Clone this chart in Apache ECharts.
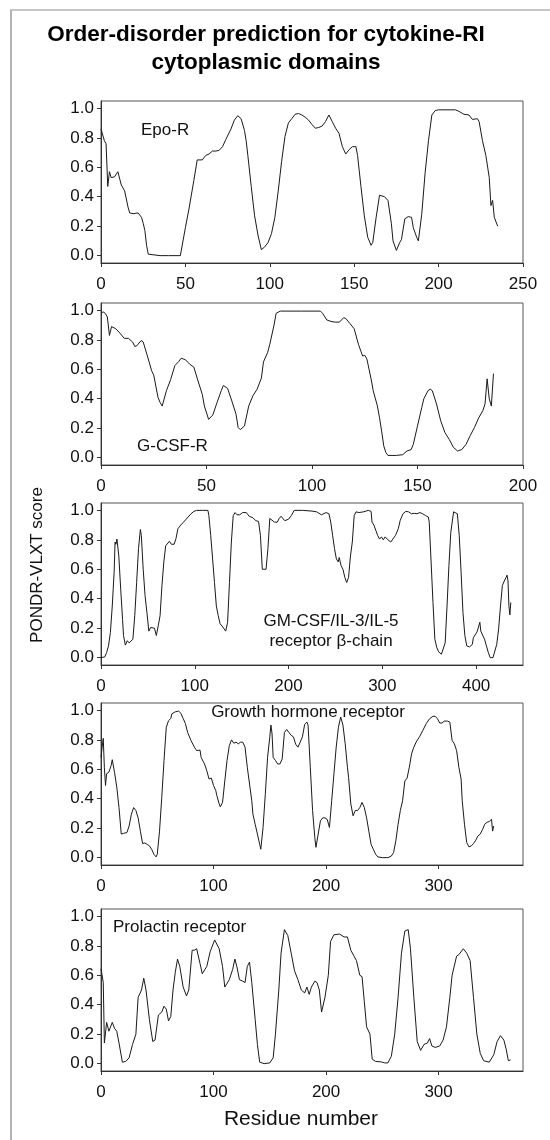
<!DOCTYPE html>
<html>
<head>
<meta charset="utf-8">
<script src="https://cdn.jsdelivr.net/npm/echarts@6/dist/echarts.min.js"></script>
<style>
  html, body { margin: 0; padding: 0; background: #fff; }
  #main { width: 550px; height: 1140px; }
</style>
</head>
<body>
<div id="main"></div>
<script>
// PONDR-VLXT scores, [residue, score]
const epoR = [[0,0.86],[2,0.78],[3,0.76],[4,0.47],[5,0.57],[6,0.53],[8,0.535],[10,0.57],[12,0.48],[14,0.44],[16,0.33],[17,0.29],[19,0.285],[20,0.295],[22,0.29],[24,0.26],[25,0.22],[26,0.17],[27,0.07],[28,0.01],[29,0],[35,0],[40,0],[47,0],[48,0.005],[50,0.19],[52,0.31],[55,0.51],[57,0.65],[58,0.65],[60,0.65],[62,0.68],[64,0.69],[66,0.71],[68,0.71],[70,0.715],[72,0.74],[74,0.79],[77,0.86],[79,0.92],[81,0.95],[83,0.93],[85,0.85],[86,0.78],[87,0.68],[89,0.47],[91,0.27],[93,0.14],[95,0.04],[97,0.06],[99,0.09],[101,0.15],[103,0.26],[105,0.44],[107,0.64],[109,0.81],[111,0.9],[113,0.93],[115,0.96],[117,0.965],[119,0.955],[121,0.94],[123,0.92],[125,0.89],[127,0.865],[129,0.87],[131,0.88],[133,0.91],[135,0.955],[137,0.91],[139,0.865],[141,0.83],[143,0.74],[145,0.69],[147,0.72],[149,0.74],[151,0.74],[152,0.68],[154,0.47],[156,0.27],[158,0.125],[160,0.07],[161,0.09],[163,0.26],[165,0.41],[166,0.41],[168,0.4],[170,0.375],[172,0.22],[173,0.1],[175,0.035],[177,0.09],[178,0.11],[180,0.25],[182,0.265],[184,0.26],[185,0.19],[187,0.125],[188,0.1],[190,0.28],[192,0.56],[194,0.78],[196,0.955],[198,0.985],[200,0.99],[205,0.99],[210,0.99],[212,0.98],[215,0.96],[218,0.955],[220,0.925],[223,0.93],[224,0.91],[226,0.78],[228,0.68],[230,0.53],[231,0.34],[232,0.375],[233,0.26],[235,0.2]];

const gcsfR = [[0,0.98],[1,0.99],[2,0.98],[3,0.955],[4,0.83],[5,0.89],[7,0.875],[9,0.845],[11,0.81],[13,0.81],[15,0.785],[16,0.755],[17,0.76],[19,0.795],[20,0.785],[22,0.69],[24,0.59],[25,0.56],[27,0.41],[28,0.375],[29,0.35],[31,0.455],[33,0.53],[35,0.625],[37,0.655],[38,0.675],[40,0.665],[42,0.635],[44,0.615],[46,0.52],[48,0.43],[49,0.35],[51,0.26],[53,0.29],[55,0.375],[57,0.455],[58,0.49],[60,0.47],[62,0.385],[64,0.295],[65,0.205],[66,0.19],[68,0.215],[70,0.35],[72,0.42],[74,0.465],[76,0.54],[77,0.65],[79,0.715],[80,0.77],[82,0.9],[83,0.98],[85,0.995],[90,0.995],[95,0.995],[100,0.995],[104,0.995],[105,0.98],[107,0.935],[109,0.925],[111,0.92],[113,0.92],[115,0.95],[116,0.945],[118,0.91],[120,0.875],[122,0.77],[124,0.69],[125,0.695],[126,0.67],[128,0.535],[129,0.455],[131,0.35],[132,0.27],[133,0.18],[134,0.08],[135,0.035],[136,0.015],[140,0.015],[143,0.02],[145,0.045],[147,0.055],[148,0.09],[150,0.215],[152,0.34],[153,0.4],[155,0.455],[156,0.465],[157,0.455],[159,0.365],[161,0.25],[163,0.17],[165,0.125],[167,0.07],[169,0.045],[171,0.055],[173,0.09],[175,0.15],[177,0.205],[179,0.27],[181,0.32],[182,0.365],[183,0.535],[184,0.4],[185,0.35],[186,0.57]];

const gmcsfBeta = [[0,0],[4,0.005],[6,0.035],[8,0.08],[10,0.17],[12,0.35],[14,0.58],[15,0.785],[16,0.77],[17,0.805],[19,0.69],[21,0.465],[23,0.26],[24,0.15],[26,0.085],[28,0.115],[30,0.1],[32,0.09],[34,0.125],[36,0.285],[38,0.51],[40,0.74],[42,0.87],[43,0.83],[45,0.6],[47,0.42],[49,0.305],[51,0.18],[53,0.205],[55,0.21],[57,0.2],[59,0.15],[61,0.215],[63,0.285],[65,0.49],[67,0.65],[69,0.76],[71,0.77],[73,0.79],[75,0.77],[78,0.77],[80,0.81],[82,0.875],[85,0.9],[88,0.92],[90,0.93],[93,0.955],[96,0.977],[99,0.993],[102,1],[108,1],[114,1],[115,0.965],[117,0.83],[119,0.67],[121,0.51],[123,0.35],[125,0.285],[127,0.23],[129,0.215],[131,0.215],[133,0.18],[135,0.24],[137,0.51],[139,0.785],[141,0.965],[143,0.985],[145,0.97],[148,0.97],[151,0.985],[153,0.995],[155,0.985],[158,0.96],[162,0.95],[165,0.93],[168,0.925],[170,0.83],[172,0.6],[174,0.6],[176,0.6],[178,0.74],[180,0.945],[182,0.935],[185,0.92],[188,0.92],[190,0.945],[192,0.96],[194,0.95],[196,0.93],[200,0.94],[203,0.965],[206,1],[215,1],[225,0.995],[230,0.99],[235,0.97],[240,0.985],[243,0.977],[245,0.92],[247,0.83],[249,0.74],[251,0.67],[253,0.65],[254,0.68],[256,0.625],[258,0.6],[259,0.6],[260,0.545],[262,0.51],[264,0.545],[266,0.69],[268,0.785],[270,0.965],[272,0.99],[275,0.985],[280,0.99],[285,1],[288,0.993],[289,0.92],[291,0.9],[293,0.865],[295,0.83],[297,0.805],[299,0.82],[301,0.8],[303,0.82],[306,0.8],[309,0.785],[311,0.795],[314,0.83],[317,0.875],[319,0.93],[322,0.977],[325,0.993],[328,0.99],[331,0.977],[334,0.98],[337,0.977],[340,0.985],[343,0.977],[346,0.965],[349,0.955],[350,0.92],[352,0.65],[354,0.375],[356,0.125],[358,0.07],[360,0.04],[363,0.023],[365,0.035],[367,0.1],[369,0.35],[371,0.625],[373,0.85],[376,0.99],[378,0.993],[380,0.977],[382,0.83],[384,0.58],[386,0.305],[388,0.15],[390,0.08],[393,0.073],[396,0.09],[397,0.135],[399,0.135],[401,0.175],[403,0.18],[404,0.24],[405,0.18],[407,0.17],[409,0.125],[411,0.08],[413,0.035],[415,0],[418,0],[420,0.045],[422,0.09],[424,0.195],[426,0.35],[428,0.49],[430,0.52],[432,0.545],[433,0.56],[434,0.52],[435,0.35],[436,0.29],[437,0.375]];

const ghR = [[0,0.68],[1,0.75],[2,0.81],[3,0.61],[4,0.49],[5,0.57],[7,0.58],[9,0.625],[10,0.665],[12,0.58],[14,0.48],[16,0.34],[18,0.16],[20,0.165],[23,0.17],[25,0.215],[27,0.295],[29,0.34],[31,0.32],[33,0.27],[35,0.18],[37,0.095],[39,0.1],[41,0.09],[43,0.08],[45,0.057],[47,0.023],[49,0.005],[50,0.023],[52,0.18],[54,0.41],[56,0.66],[58,0.885],[60,0.93],[62,0.945],[63,0.977],[66,0.99],[69,0.995],[71,0.98],[73,0.945],[75,0.91],[77,0.85],[80,0.795],[83,0.75],[85,0.727],[88,0.73],[89,0.68],[92,0.636],[94,0.59],[96,0.534],[98,0.54],[100,0.49],[102,0.455],[103,0.42],[105,0.365],[106,0.345],[108,0.375],[110,0.52],[112,0.66],[114,0.76],[116,0.8],[118,0.777],[120,0.784],[122,0.773],[124,0.784],[126,0.784],[128,0.75],[130,0.614],[132,0.5],[134,0.386],[135,0.295],[137,0.227],[139,0.16],[141,0.09],[142,0.057],[144,0.205],[146,0.43],[148,0.68],[150,0.82],[151,0.9],[152,0.84],[153,0.68],[155,0.66],[157,0.636],[159,0.636],[161,0.67],[163,0.85],[165,0.87],[167,0.85],[169,0.83],[171,0.82],[173,0.77],[175,0.75],[177,0.784],[179,0.82],[181,0.905],[183,0.92],[184,0.9],[186,0.614],[188,0.32],[190,0.136],[191,0.07],[193,0.16],[195,0.25],[197,0.27],[199,0.27],[201,0.26],[203,0.205],[205,0.386],[207,0.57],[209,0.75],[211,0.886],[213,0.955],[215,0.9],[217,0.773],[219,0.614],[220,0.545],[222,0.364],[224,0.284],[226,0.32],[228,0.32],[230,0.34],[232,0.375],[234,0.34],[236,0.27],[238,0.18],[240,0.09],[242,0.057],[244,0.023],[246,0.005],[250,0],[255,0],[258,0.011],[260,0.034],[262,0.114],[264,0.227],[266,0.32],[268,0.386],[270,0.52],[272,0.54],[274,0.614],[276,0.705],[278,0.75],[280,0.784],[283,0.82],[286,0.864],[289,0.91],[292,0.943],[295,0.96],[297,0.96],[299,0.943],[301,0.914],[303,0.914],[305,0.927],[308,0.927],[310,0.92],[312,0.795],[314,0.773],[316,0.727],[318,0.614],[320,0.534],[321,0.386],[323,0.227],[325,0.102],[327,0.073],[329,0.08],[331,0.095],[333,0.118],[335,0.148],[337,0.16],[339,0.19],[341,0.227],[343,0.24],[345,0.245],[347,0.26],[348,0.18],[349,0.215]];

const prlR = [[0,0.645],[2,0.55],[3,0.14],[5,0.28],[7,0.22],[8,0.23],[10,0.28],[12,0.24],[14,0.22],[16,0.14],[19,0.01],[22,0.015],[25,0.04],[28,0.13],[31,0.2],[33,0.45],[36,0.5],[38,0.58],[40,0.5],[43,0.3],[46,0.15],[48,0.16],[51,0.33],[54,0.35],[56,0.39],[58,0.37],[60,0.29],[62,0.32],[64,0.5],[66,0.62],[68,0.71],[70,0.66],[73,0.52],[76,0.46],[78,0.5],[81,0.77],[83,0.77],[85,0.78],[88,0.68],[90,0.61],[94,0.66],[97,0.76],[101,0.84],[105,0.78],[108,0.66],[110,0.52],[114,0.57],[117,0.64],[119,0.71],[121,0.65],[123,0.57],[126,0.56],[128,0.55],[130,0.66],[132,0.69],[134,0.55],[137,0.3],[139,0.13],[141,0.01],[145,0],[150,0.005],[153,0.04],[155,0.2],[158,0.5],[160,0.75],[163,0.91],[166,0.87],[169,0.75],[172,0.63],[175,0.57],[178,0.5],[181,0.48],[183,0.52],[185,0.47],[187,0.52],[190,0.56],[192,0.55],[194,0.5],[196,0.35],[199,0.45],[202,0.6],[204,0.83],[207,0.875],[212,0.88],[216,0.86],[219,0.86],[222,0.77],[227,0.7],[230,0.6],[232,0.59],[234,0.42],[236,0.25],[239,0.2],[241,0.03],[244,0.015],[249,0.012],[252,0.005],[255,0.005],[258,0.05],[261,0.2],[264,0.45],[267,0.75],[270,0.9],[273,0.91],[275,0.78],[278,0.45],[281,0.15],[284,0.09],[287,0.13],[290,0.14],[292,0.17],[294,0.12],[297,0.11],[301,0.12],[304,0.16],[307,0.25],[310,0.45],[312,0.6],[316,0.73],[318,0.74],[322,0.78],[325,0.75],[328,0.7],[331,0.45],[334,0.2],[337,0.07],[340,0.02],[345,0.01],[349,0.06],[352,0.15],[355,0.19],[358,0.16],[360,0.1],[362,0.02],[364,0.025]];

const panelSeries = [epoR, gcsfR, gmcsfBeta, ghR, prlR];
const panelNames = ['Epo-R', 'G-CSF-R', 'GM-CSF/IL-3/IL-5 receptor β-chain', 'Growth hormone receptor', 'Prolactin receptor'];
const xMax = [250, 200, 450, 375, 375];
const xTicks = [
  [0, 50, 100, 150, 200, 250],
  [0, 50, 100, 150, 200],
  [0, 100, 200, 300, 400],
  [0, 100, 200, 300],
  [0, 100, 200, 300]
];
const yTicks = [0, 0.2, 0.4, 0.6, 0.8, 1.0];

const gridTops = [101, 303, 503, 703, 909];
const FONT = 'Liberation Sans, Arial, sans-serif';

const chart = echarts.init(document.getElementById('main'));

const grids = [], xAxes = [], yAxes = [], series = [];
for (let i = 0; i < 5; i++) {
  grids.push({
    left: 101, width: 422, top: gridTops[i], height: 162,
    show: true, borderColor: '#555', borderWidth: 1, backgroundColor: 'transparent'
  });
  xAxes.push({
    type: 'value', gridIndex: i, min: 0, max: xMax[i],
    axisLine: { show: true, onZero: false, lineStyle: { color: '#333', width: 1 } },
    axisTick: { show: true, inside: false, length: 4, customValues: xTicks[i], lineStyle: { color: '#333' } },
    axisLabel: { customValues: xTicks[i], margin: 13, color: '#111', fontSize: 17, fontFamily: FONT },
    splitLine: { show: false }
  });
  yAxes.push({
    type: 'value', gridIndex: i, min: -0.05, max: 1.05,
    axisLine: { show: true, onZero: false, lineStyle: { color: '#333', width: 1 } },
    axisTick: { show: true, inside: false, length: 4, customValues: yTicks, lineStyle: { color: '#333' } },
    axisLabel: {
      customValues: yTicks, margin: 7, color: '#111', fontSize: 17, fontFamily: FONT,
      formatter: v => v.toFixed(1)
    },
    splitLine: { show: false }
  });
  series.push({
    name: panelNames[i], type: 'line', xAxisIndex: i, yAxisIndex: i,
    data: panelSeries[i], showSymbol: false, symbol: 'none',
    lineStyle: { color: '#1a1a1a', width: 1 }
  });
}

const labelStyle = { fill: '#111', fontSize: 17, fontFamily: FONT };

chart.setOption({
  animation: false,
  backgroundColor: '#fff',
  title: {
    text: 'Order-disorder prediction for cytokine-RI\ncytoplasmic domains',
    left: 261, top: 16, textAlign: 'center',
    textStyle: { fontSize: 22.5, fontWeight: 'bold', fontFamily: FONT, color: '#000', lineHeight: 28 }
  },
  grid: grids,
  xAxis: xAxes,
  yAxis: yAxes,
  series: series,
  graphic: [
    { type: 'line', shape: { x1: 10, y1: 10, x2: 550, y2: 10 }, style: { stroke: '#b3b3b3', lineWidth: 1.5 } },
    { type: 'line', shape: { x1: 11, y1: 10, x2: 11, y2: 1140 }, style: { stroke: '#b3b3b3', lineWidth: 2 } },
    { type: 'text', left: 141, top: 122, style: Object.assign({ text: 'Epo-R' }, labelStyle) },
    { type: 'text', left: 137, top: 438, style: Object.assign({ text: 'G-CSF-R' }, labelStyle) },
    { type: 'text', x: 331, y: 611, style: Object.assign({ text: 'GM-CSF/IL-3/IL-5\nreceptor β-chain', textAlign: 'center', lineHeight: 20 }, labelStyle) },
    { type: 'text', x: 308, y: 704, style: Object.assign({ text: 'Growth hormone receptor', textAlign: 'center' }, labelStyle) },
    { type: 'text', left: 113, top: 919, style: Object.assign({ text: 'Prolactin receptor' }, labelStyle) },
    { type: 'text', x: 301, y: 1109, style: { text: 'Residue number', textAlign: 'center', fill: '#111', fontSize: 21, fontFamily: FONT } },
    { type: 'text', x: 37, y: 565, rotation: Math.PI / 2, style: { text: 'PONDR-VLXT score', textAlign: 'center', textVerticalAlign: 'middle', fill: '#111', fontSize: 17, fontFamily: FONT } }
  ]
});
</script>
</body>
</html>
